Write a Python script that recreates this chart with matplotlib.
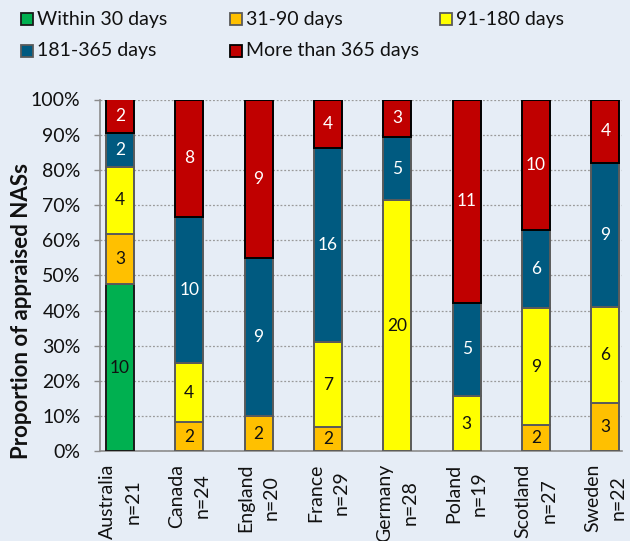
import matplotlib
matplotlib.use("Agg")
import matplotlib.pyplot as plt
from matplotlib.patches import Rectangle
import numpy as np

plt.rcParams['font.family'] = ['Lato', 'DejaVu Sans']

# Appraisal durations of NASs per country (counts)
countries = ["Australia", "Canada", "England", "France", "Germany", "Poland", "Scotland", "Sweden"]
n_total = [21, 24, 20, 29, 28, 19, 27, 22]

categories = ["Within 30 days", "31-90 days", "91-180 days", "181-365 days", "More than 365 days"]
within_30 = [10, 0, 0, 0, 0, 0, 0, 0]
days_31_90 = [3, 2, 2, 2, 0, 0, 2, 3]
days_91_180 = [4, 4, 0, 7, 20, 3, 9, 6]
days_181_365 = [2, 10, 9, 16, 5, 5, 6, 9]
over_365 = [2, 8, 9, 4, 3, 11, 10, 4]

series = [within_30, days_31_90, days_91_180, days_181_365, over_365]
fill_colors = ["#00B050", "#FFC000", "#FFFF00", "#005A80", "#C00000"]
edge_colors = ["#1A1A1A", "#5A5A5A", "#5A5A5A", "#5A5A5A", "#000000"]
text_colors = ["#111111", "#111111", "#111111", "#FFFFFF", "#FFFFFF"]

BG = "#E6EDF6"
W, H = 630, 541
fig = plt.figure(figsize=(W / 100, H / 100), dpi=100, facecolor=BG)

def fx(px):
    return px / W

def fy(py):
    return 1 - py / H

ax_left, ax_right, ax_top, ax_bottom = 100, 622, 99.5, 451.3
ax = fig.add_axes([fx(ax_left), fy(ax_bottom), fx(ax_right - ax_left), (ax_bottom - ax_top) / H])
ax.set_facecolor(BG)

x = np.arange(len(countries))
totals = np.array(n_total, dtype=float)
bottom = np.zeros(len(countries))
for vals, fc, ec, tc in zip(series, fill_colors, edge_colors, text_colors):
    v = np.array(vals, dtype=float)
    frac = v / totals
    ax.bar(x, frac, bottom=bottom, width=0.40, color=fc, edgecolor=ec,
           linewidth=1.4, zorder=3)
    for xi, b, f, c in zip(x, bottom, frac, vals):
        if c > 0:
            ax.text(xi, b + f / 2, str(c), ha="center", va="center",
                    fontsize=12.5, color=tc, zorder=4)
    bottom += frac

ax.set_xlim(-0.288, 7.24)
ax.set_ylim(0, 1)
ticks = np.arange(0, 1.01, 0.1)
ax.set_yticks(ticks)
ax.set_yticklabels([f"{int(round(t * 100))}%" for t in ticks],
                   fontsize=14, color="#111111")
ax.tick_params(axis="y", length=4, color="#8C8C8C", width=1, pad=10)
ax.set_xticks(x)
ax.set_xticklabels([f"{c}\nn={n}" for c, n in zip(countries, n_total)],
                   rotation=90, fontsize=14, linespacing=1.6, color="#111111",
                   ha="center", va="top")
ax.tick_params(axis="x", length=0, pad=9)

for s in ["top", "right"]:
    ax.spines[s].set_visible(False)
ax.spines["left"].set_color("#8C8C8C")
ax.spines["bottom"].set_color("#8C8C8C")
ax.spines["left"].set_linewidth(1.2)
ax.spines["bottom"].set_linewidth(1.2)
ax.yaxis.grid(True, linestyle=(0, (1.5, 1.5)), color="#9A9A9A", linewidth=0.9, zorder=0)
ax.set_axisbelow(True)

ax.set_ylabel("Proportion of appraised NASs", fontsize=16, fontweight="bold",
              color="#111111")
ax.yaxis.label.set_verticalalignment("center")
ax.yaxis.set_label_coords((22 - ax_left) / (ax_right - ax_left), 0.40)

# Legend laid out in two rows
legend_slots = [(21, 19), (230, 19), (440, 19), (21, 50.5), (230, 50.5)]
sq = 12
for (px, py), lab, fc, ec in zip(legend_slots, categories, fill_colors, edge_colors):
    fig.add_artist(Rectangle((fx(px), fy(py + sq / 2)), fx(sq), sq / H,
                             transform=fig.transFigure, facecolor=fc,
                             edgecolor=ec, linewidth=1.3))
    fig.text(fx(px + sq + 4), fy(py), lab, fontsize=14, color="#111111",
             ha="left", va="center")

fig.savefig("out.png", dpi=100, facecolor=BG)
